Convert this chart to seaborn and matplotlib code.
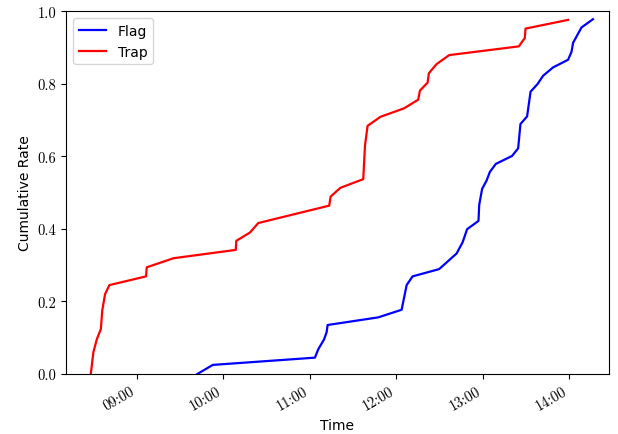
import matplotlib
matplotlib.use("Agg")
import matplotlib.pyplot as plt
import matplotlib.dates as mdates
import pandas as pd
import seaborn as sns

# ==========================================
# DATA
# ==========================================
DAY = "2020-01-01 "

trap_times = [
    "08:28:06", "08:29:54", "08:32:18", "08:35:06", "08:36:00", "08:38:00",
    "08:41:00", "09:06:24", "09:06:54", "09:25:24", "10:08:36", "10:09:00",
    "10:18:30", "10:24:12", "11:13:24", "11:14:24", "11:21:06", "11:37:00",
    "11:38:12", "11:40:00", "11:49:00", "12:05:12", "12:15:06", "12:16:18",
    "12:21:36", "12:22:30", "12:27:48", "12:36:36", "13:24:54", "13:29:00",
    "13:29:30", "13:59:00",
]
trap_rate = [
    0.000, 0.060, 0.096, 0.124, 0.174, 0.220,
    0.245, 0.269, 0.294, 0.319, 0.342, 0.367,
    0.390, 0.416, 0.464, 0.489, 0.513, 0.537,
    0.629, 0.684, 0.709, 0.732, 0.756, 0.781,
    0.803, 0.829, 0.854, 0.879, 0.903, 0.926,
    0.952, 0.976,
]

flag_times = [
    "09:42:00", "09:52:42", "11:03:30", "11:05:48", "11:09:48", "11:11:36",
    "11:12:18", "11:47:24", "12:03:36", "12:07:06", "12:11:12", "12:29:36",
    "12:41:42", "12:45:54", "12:49:00", "12:56:54", "12:57:24", "12:59:24",
    "13:02:30", "13:04:48", "13:08:54", "13:20:12", "13:24:24", "13:26:00",
    "13:30:36", "13:33:00", "13:37:48", "13:41:42", "13:48:36", "13:59:00",
    "14:01:24", "14:02:30", "14:08:18", "14:16:18",
]
flag_rate = [
    0.000, 0.025, 0.045, 0.068, 0.095, 0.115,
    0.135, 0.156, 0.177, 0.245, 0.269, 0.289,
    0.332, 0.363, 0.399, 0.422, 0.466, 0.510,
    0.533, 0.557, 0.579, 0.601, 0.622, 0.689,
    0.710, 0.778, 0.799, 0.822, 0.845, 0.866,
    0.888, 0.913, 0.955, 0.978,
]

hour_ticks = ["09:00", "10:00", "11:00", "12:00", "13:00", "14:00"]
rate_ticks = [0.0, 0.2, 0.4, 0.6, 0.8, 1.0]
x_limits = ["08:11:00", "14:27:12"]


def to_dt(values):
    return pd.to_datetime([DAY + v for v in values])


def build_frame() -> pd.DataFrame:
    flag = pd.DataFrame({"Time": flag_times, "Rate": flag_rate, "Type": "Flag"})
    trap = pd.DataFrame({"Time": trap_times, "Rate": trap_rate, "Type": "Trap"})
    df = pd.concat([flag, trap], ignore_index=True)
    df["Time"] = pd.to_datetime(DAY + df["Time"])
    return df


def main():
    plt.rcParams["font.family"] = ["DejaVu Sans"]
    plt.rcParams["axes.unicode_minus"] = False

    df = build_frame()

    fig = plt.figure(figsize=(6.18, 4.35), dpi=100)
    ax = fig.add_axes([0.107, 0.138, 0.878, 0.834])

    sns.lineplot(
        data=df, x="Time", y="Rate", hue="Type",
        palette={"Flag": "blue", "Trap": "red"},
        hue_order=["Flag", "Trap"],
        linewidth=1.6, ax=ax, sort=False, estimator=None,
    )

    xl = to_dt(x_limits)
    ax.set_xlim(xl[0], xl[1])
    ax.set_ylim(0, 1)

    # ticks: serif (Computer Modern look), labels: sans
    ax.set_xticks(mdates.date2num(to_dt(hour_ticks)))
    ax.set_xticklabels(hour_ticks, rotation=30, ha="right",
                       fontfamily="cmr10", fontsize=10.5)
    ax.set_yticks(rate_ticks)
    ax.set_yticklabels([f"{v:.1f}" for v in rate_ticks],
                       fontfamily="cmr10", fontsize=10.5)

    ax.set_xlabel("Time", fontsize=10, labelpad=4)
    ax.set_ylabel("Cumulative Rate", fontsize=10)

    ax.legend(loc="upper left", fontsize=10, title=None)

    fig.savefig("out.png", dpi=100)
    plt.close(fig)


if __name__ == "__main__":
    main()
